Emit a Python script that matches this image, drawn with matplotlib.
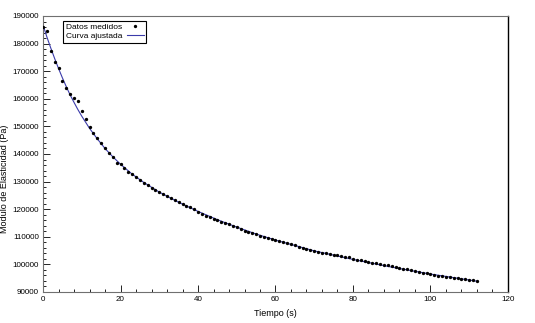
import matplotlib
matplotlib.use("Agg")
import matplotlib.pyplot as plt
from matplotlib.ticker import MultipleLocator

plt.rcParams['font.family'] = ['Liberation Sans', 'DejaVu Sans']

# measured data, one point per second
tiempo = list(range(0, 113))
modulo = [
    186000, 184500, 177300, 173500, 171000, 166600, 163900, 161700, 160200, 159200,
    155500, 152600, 149900, 147500, 145700, 143900, 142100, 140500, 138800, 136700,
    136200, 134900, 133600, 132700, 131500, 130500, 129600, 128700, 127800, 127000,
    126100, 125500, 124800, 124100, 123300, 122700, 122000, 121300, 120700, 120000,
    119000, 118300, 117700, 117200, 116600, 116100, 115500, 115000, 114500, 113900,
    113400, 112800, 112200, 111700, 111300, 110900, 110400, 109900, 109600, 109200,
    108700, 108400, 108000, 107600, 107300, 106900, 106400, 106100, 105600, 105200,
    104900, 104500, 104300, 104000, 103800, 103500, 103300, 103000, 102600, 102500,
    102100, 101700, 101500, 101200, 100900, 100600, 100400, 100000, 99800, 99600,
    99300, 98900, 98700, 98400, 98200, 97900, 97600, 97300, 97000, 96700,
    96400, 96200, 95900, 95800, 95500, 95300, 95100, 94900, 94800, 94600,
    94400, 94300, 94000,
]

# fitted curve read at a few times
t_ajuste = [0, 1, 2, 3, 4, 5, 6, 7, 8, 9, 10, 12, 14, 16, 18, 20, 23, 26, 30,
            35, 40, 45, 50, 55, 60, 70, 80, 90, 100, 112]
m_ajuste = [186700, 182400, 178400, 174600, 171000, 167600, 164400, 161400, 158700,
            156100, 153700, 149300, 145500, 142000, 139000, 136300, 132700, 129700,
            126200, 122500, 119200, 116200, 113500, 111000, 108800, 104900, 101800,
            99000, 96500, 93900]

fs_tick = 5.8
fs_label = 6.5
fs_leg = 6.0

fig = plt.figure(figsize=(5.35, 3.23), dpi=100)
ax = fig.add_axes([0.0804, 0.096, 0.8691, 0.8545])

ax.plot(tiempo, modulo, 'o', color='black', ms=2.4, mew=0, label='Datos medidos', zorder=3)
ax.plot(t_ajuste, m_ajuste, '-', color='#3b3baa', lw=0.8, label='Curva ajustada', zorder=2)

ax.set_xlim(0, 120)
ax.set_ylim(90000, 190000)
ax.xaxis.set_major_locator(MultipleLocator(20))
ax.xaxis.set_minor_locator(MultipleLocator(4))
ax.yaxis.set_major_locator(MultipleLocator(10000))
ax.yaxis.set_minor_locator(MultipleLocator(2000))

ax.tick_params(which='both', direction='in', top=False, right=False,
               labelsize=fs_tick, colors='black', width=0.6, pad=3)
ax.tick_params(which='major', length=5)
ax.tick_params(which='minor', length=2.5)

for side in ['left', 'bottom', 'top']:
    ax.spines[side].set_color('#707070')
    ax.spines[side].set_linewidth(0.8)
ax.spines['right'].set_color('black')
ax.spines['right'].set_linewidth(1.0)

ax.set_xlabel('Tiempo (s)', fontsize=fs_label, labelpad=4)
ax.set_ylabel('Modulo de Elasticidad (Pa)', fontsize=fs_label)
ax.yaxis.set_label_coords(-0.073, 0.41)

leg = ax.legend(loc='upper left', bbox_to_anchor=(0.043, 0.982), fontsize=fs_leg,
                markerfirst=False, fancybox=False, framealpha=1,
                edgecolor='black', handlelength=2.0, borderpad=0.3,
                labelspacing=0.15, handletextpad=0.6, borderaxespad=0)
leg.get_frame().set_linewidth(0.8)

fig.savefig('out.png', dpi=100)
